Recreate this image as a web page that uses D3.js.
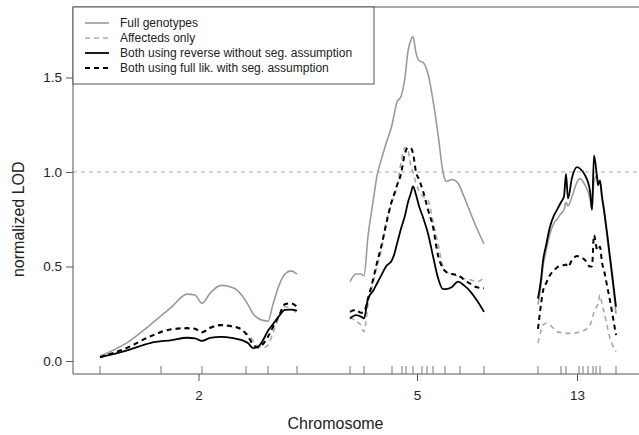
<!DOCTYPE html>
<html>
<head>
<meta charset="utf-8">
<script src="https://cdn.jsdelivr.net/npm/d3@7"></script>
<style>
  body { margin: 0; background: #fff; }
  svg { display: block; font-family: "Liberation Sans", Arial, Helvetica, sans-serif; }
</style>
</head>
<body>
<div id="chart"></div>
<script>
// chromosomes, their start on the cumulative map (cM) and marker positions (local cM)
const chromosomes = ["2", "5", "13"];
const chromOffsets = [0, 125, 219];
const markers2 = [0, 30.5, 51, 73, 84, 98.5];
const markers5 = [0, 7, 21, 26, 28, 31.5, 36, 38.5, 41.5, 47.5, 55, 67];
const markers13 = [0, 11.5, 14, 20.5, 22.5, 25, 27.5, 29, 31, 39];

// chromosome 2
const pos2 = [0, 14, 25, 36, 43.5, 47.5, 51, 55, 60.5, 66.5, 71, 74, 76.5, 79, 81.5, 84, 86.5, 89.5, 92.5, 95.5, 98.5];
const full2 = [0.026, 0.10, 0.19, 0.288, 0.354, 0.349, 0.305, 0.358, 0.40, 0.388, 0.347, 0.298, 0.25, 0.226, 0.215, 0.211, 0.30, 0.40, 0.46, 0.477, 0.46];
const affected2 = [0.02, 0.07, 0.128, 0.165, 0.17, 0.168, 0.15, 0.172, 0.186, 0.18, 0.165, 0.14, 0.11, 0.08, 0.07, 0.085, 0.15, 0.23, 0.287, 0.28, 0.25];
const reverse2 = [0.02, 0.058, 0.095, 0.111, 0.123, 0.12, 0.106, 0.122, 0.128, 0.121, 0.11, 0.095, 0.068, 0.075, 0.11, 0.16, 0.195, 0.237, 0.27, 0.272, 0.266];
const fullLik2 = [0.02, 0.072, 0.13, 0.169, 0.174, 0.171, 0.152, 0.176, 0.19, 0.183, 0.165, 0.13, 0.088, 0.072, 0.09, 0.128, 0.18, 0.24, 0.30, 0.305, 0.287];

// chromosome 5
const pos5 = [0, 3, 5.5, 7, 9, 11.5, 13.5, 15.5, 18, 21, 22, 23.5, 25.5, 27.5, 29, 30.5, 31.5, 33, 34.5, 36.5, 39, 41.5, 44, 46.5, 48, 51, 54, 57, 60, 63.5, 67];
const full5 = [0.42, 0.46, 0.46, 0.45, 0.66, 0.84, 0.98, 1.06, 1.15, 1.25, 1.30, 1.37, 1.40, 1.50, 1.64, 1.70, 1.717, 1.63, 1.59, 1.58, 1.52, 1.38, 1.20, 1.00, 0.95, 0.96, 0.94, 0.87, 0.79, 0.70, 0.62];
const affected5 = [0.234, 0.21, 0.19, 0.155, 0.30, 0.41, 0.50, 0.58, 0.73, 0.84, 0.87, 0.92, 1.05, 1.13, 1.115, 1.03, 1.00, 0.94, 0.90, 0.87, 0.85, 0.74, 0.62, 0.50, 0.472, 0.46, 0.45, 0.437, 0.43, 0.42, 0.44];
const reverse5 = [0.225, 0.243, 0.235, 0.225, 0.33, 0.37, 0.41, 0.45, 0.50, 0.534, 0.56, 0.62, 0.70, 0.77, 0.84, 0.89, 0.924, 0.88, 0.82, 0.76, 0.675, 0.555, 0.44, 0.38, 0.38, 0.392, 0.42, 0.40, 0.37, 0.32, 0.26];
const fullLik5 = [0.26, 0.27, 0.255, 0.26, 0.33, 0.43, 0.52, 0.60, 0.72, 0.85, 0.88, 0.93, 0.99, 1.10, 1.13, 1.125, 1.10, 1.00, 0.96, 0.90, 0.80, 0.71, 0.56, 0.49, 0.472, 0.46, 0.454, 0.43, 0.41, 0.39, 0.385];

// chromosome 13
const pos13 = [0, 1.5, 2.5, 4, 6, 8, 9.5, 11.5, 13, 14, 15, 17, 19.5, 21, 23.5, 26, 27, 28, 29.5, 30, 31, 32, 33, 34.5, 36, 37.5, 39];
const full13 = [0.30, 0.40, 0.50, 0.58, 0.675, 0.73, 0.75, 0.78, 0.80, 0.84, 0.82, 0.87, 0.947, 0.965, 0.93, 0.86, 0.80, 0.95, 0.983, 0.95, 0.939, 0.86, 0.79, 0.66, 0.53, 0.40, 0.25];
const affected13 = [0.095, 0.16, 0.19, 0.20, 0.19, 0.17, 0.155, 0.15, 0.146, 0.146, 0.146, 0.146, 0.15, 0.155, 0.164, 0.19, 0.22, 0.26, 0.29, 0.30, 0.349, 0.30, 0.26, 0.19, 0.12, 0.08, 0.05];
const reverse13 = [0.33, 0.43, 0.53, 0.61, 0.71, 0.77, 0.80, 0.84, 0.87, 0.99, 0.86, 0.97, 1.026, 1.018, 0.983, 0.90, 0.80, 1.088, 0.974, 0.93, 0.956, 0.87, 0.80, 0.68, 0.55, 0.42, 0.287];
const fullLik13 = [0.17, 0.30, 0.37, 0.41, 0.454, 0.48, 0.495, 0.505, 0.507, 0.51, 0.498, 0.534, 0.555, 0.55, 0.534, 0.50, 0.50, 0.666, 0.59, 0.586, 0.604, 0.52, 0.48, 0.40, 0.32, 0.23, 0.137];

const seriesNames = ["Full genotypes", "Affecteds only", "Both using reverse without seg. assumption", "Both using full lik. with seg. assumption"];
const yTicks = [0, 0.5, 1, 1.5];
const threshold = 1;

const width = 639, height = 435;
const margin = { top: 7, right: 0, bottom: 61, left: 73 };

const svg = d3.select("#chart").append("svg")
    .attr("width", width)
    .attr("height", height);

// cumulative map position -> pixels; value -> pixels
const x = d3.scaleLinear().domain([-13.5, 269.5]).range([margin.left, width - margin.right]);
const y = d3.scaleLinear().domain([-0.0688, 1.873]).range([height - margin.bottom, margin.top]);

const positions = [pos2, pos5, pos13];
const markers = [markers2, markers5, markers13];
const values = [
    [full2, affected2, reverse2, fullLik2],
    [full5, affected5, reverse5, fullLik5],
    [full13, affected13, reverse13, fullLik13]
];

const styles = [
    { color: "#9a9a9a", width: 1.6, dash: null },
    { color: "#a8a8a8", width: 1.6, dash: "5,4" },
    { color: "#000", width: 1.8, dash: null },
    { color: "#000", width: 2, dash: "5,4" }
];

const line = d3.line()
    .x(d => x(d[0]))
    .y(d => y(d[1]))
    .curve(d3.curveMonotoneX);

// threshold line
svg.append("line")
    .attr("x1", x.range()[0]).attr("x2", x.range()[1])
    .attr("y1", y(threshold)).attr("y2", y(threshold))
    .attr("stroke", "#aaa")
    .attr("stroke-width", 1)
    .attr("stroke-dasharray", "4,4");

// curves per chromosome, drawn grey first then black on top
chromosomes.forEach((chr, ci) => {
    const off = chromOffsets[ci];
    [0, 1, 2, 3].forEach(si => {
        const pts = positions[ci].map((p, i) => [off + p, values[ci][si][i]]);
        svg.append("path")
            .datum(pts)
            .attr("fill", "none")
            .attr("stroke", styles[si].color)
            .attr("stroke-width", styles[si].width)
            .attr("stroke-dasharray", styles[si].dash)
            .attr("stroke-linejoin", "round")
            .attr("d", line);
    });
});

const bottom = y.range()[0];

// frame (right side is off the picture)
svg.append("path")
    .attr("d", `M${width},${margin.top}H${margin.left}V${bottom}H${width}`)
    .attr("fill", "none")
    .attr("stroke", "#555")
    .attr("stroke-width", 1);

// y axis
const yAxis = svg.append("g")
    .attr("transform", `translate(${margin.left},0)`)
    .call(d3.axisLeft(y).tickValues(yTicks).tickFormat(d3.format(".1f")).tickSize(7).tickPadding(4));
yAxis.select(".domain").remove();
yAxis.selectAll("line").attr("stroke", "#555");
yAxis.selectAll("text").attr("font-size", 13.5).attr("fill", "#222").attr("font-family", null);

// x axis: chromosome labels at the middle of each map
const mids = chromosomes.map((c, i) => chromOffsets[i] + (d3.min(markers[i]) + d3.max(markers[i])) / 2);
const xAxis = svg.append("g")
    .attr("transform", `translate(0,${bottom})`)
    .call(d3.axisBottom(x).tickValues(mids).tickFormat((d, i) => chromosomes[i]).tickSize(7).tickPadding(9));
xAxis.select(".domain").remove();
xAxis.selectAll("line").attr("stroke", "#555");
xAxis.selectAll("text").attr("font-size", 13.5).attr("fill", "#222").attr("font-family", null);

// marker rug
chromosomes.forEach((chr, ci) => {
    svg.append("g").selectAll("line")
        .data(markers[ci])
        .join("line")
        .attr("x1", d => x(chromOffsets[ci] + d))
        .attr("x2", d => x(chromOffsets[ci] + d))
        .attr("y1", bottom)
        .attr("y2", bottom - 8)
        .attr("stroke", "#777")
        .attr("stroke-width", 1);
});

// axis titles
svg.append("text")
    .attr("x", (margin.left + 356) / 2 + 121)
    .attr("y", 429)
    .attr("text-anchor", "middle")
    .attr("font-size", 16)
    .attr("fill", "#222")
    .text("Chromosome");

svg.append("text")
    .attr("transform", `translate(24,${y(0.75)}) rotate(-90)`)
    .attr("text-anchor", "middle")
    .attr("font-size", 16)
    .attr("fill", "#222")
    .text("normalized LOD");

// legend
const legend = svg.append("g");
legend.append("rect")
    .attr("x", margin.left).attr("y", margin.top)
    .attr("width", 301).attr("height", 77)
    .attr("fill", "#fff")
    .attr("stroke", "#555");
seriesNames.forEach((name, i) => {
    const ly = 23 + i * 15;
    legend.append("line")
        .attr("x1", 85).attr("x2", 109)
        .attr("y1", ly).attr("y2", ly)
        .attr("stroke", styles[i].color)
        .attr("stroke-width", styles[i].width)
        .attr("stroke-dasharray", styles[i].dash);
    legend.append("text")
        .attr("x", 120).attr("y", ly)
        .attr("dy", "0.35em")
        .attr("font-size", 12)
        .attr("fill", "#222")
        .text(name);
});
</script>
</body>
</html>
